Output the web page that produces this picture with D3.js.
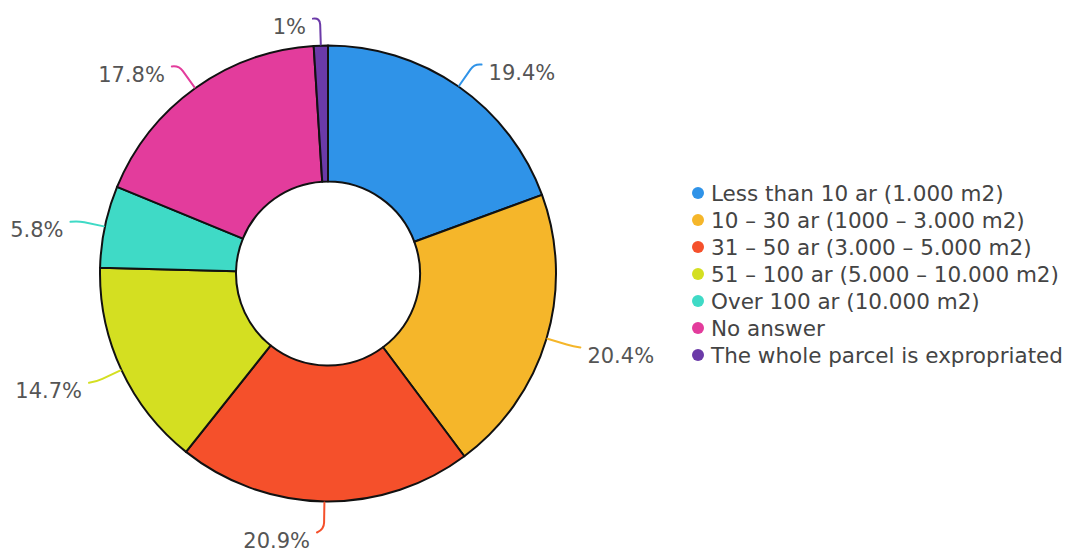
<!DOCTYPE html>
<html>
<head>
<meta charset="utf-8">
<script src="https://cdn.jsdelivr.net/npm/d3@7"></script>
<style>
  html, body { margin: 0; padding: 0; background: #fff; }
  svg { display: block; font-family: "DejaVu Sans", sans-serif; }
</style>
</head>
<body>
<svg id="chart" width="1070" height="554"></svg>
<script>
// Share of each parcel-size answer, in percent, clockwise from 12 o'clock
const categories = [
  "Less than 10 ar (1.000 m2)",
  "10 – 30 ar (1000 – 3.000 m2)",
  "31 – 50 ar (3.000 – 5.000 m2)",
  "51 – 100 ar (5.000 – 10.000 m2)",
  "Over 100 ar (10.000 m2)",
  "No answer",
  "The whole parcel is expropriated"
];
const values = [19.4, 20.4, 20.9, 14.7, 5.8, 17.8, 1];
const colors = ["#2f93e8", "#f5b62a", "#f5502b", "#d4df21", "#3fdac6", "#e33c9c", "#6b3aa8"];

const svg = d3.select("#chart");
const cx = 328, cy = 273.5;
const outerR = 228, innerR = 92;

const data = categories.map((c, i) => ({ name: c, value: values[i], color: colors[i] }));

const pie = d3.pie().value(d => d.value).sort(null);
const arcs = pie(data);
const arc = d3.arc().innerRadius(innerR).outerRadius(outerR);

const g = svg.append("g").attr("transform", `translate(${cx},${cy})`);

g.selectAll("path.slice")
  .data(arcs)
  .join("path")
  .attr("class", "slice")
  .attr("d", arc)
  .attr("fill", d => d.data.color)
  .attr("stroke", "#111")
  .attr("stroke-width", 2)
  .attr("stroke-linejoin", "round");

// Leader lines: radial stroke from the rim, curling toward the label side
const polar = (a, r) => [Math.sin(a) * r, -Math.cos(a) * r];
const labelGroup = g.append("g");

arcs.forEach(d => {
  const mid = (d.startAngle + d.endAngle) / 2;
  const side = Math.sin(mid) >= 0 ? 1 : -1;
  const p0 = polar(mid, outerR + 1);
  const p1 = polar(mid, outerR + 21);
  const p2 = polar(mid, outerR + 28);
  const p3 = [p2[0] + side * 7, p2[1] + (Math.abs(Math.cos(mid)) > 0.9 ? (Math.cos(mid) > 0 ? 1 : 3) : 1)];
  labelGroup.append("path")
    .attr("d", `M${p0[0]},${p0[1]} L${p1[0]},${p1[1]} Q${p2[0]},${p2[1]} ${p3[0]},${p3[1]}`)
    .attr("fill", "none")
    .attr("stroke", d.data.color)
    .attr("stroke-width", 2)
    .attr("stroke-linecap", "round");
  labelGroup.append("text")
    .attr("x", p3[0] + side * 7)
    .attr("y", p3[1] + 8)
    .attr("dy", "0.35em")
    .attr("text-anchor", side > 0 ? "start" : "end")
    .attr("fill", "#555")
    .attr("font-size", 21)
    .text(d3.format("~r")(d.data.value) + "%");
});

// Legend
const legend = svg.append("g").attr("transform", "translate(698,193)");
const rowH = 27;
const rows = legend.selectAll("g")
  .data(data)
  .join("g")
  .attr("transform", (d, i) => `translate(0,${i * rowH})`);
rows.append("circle").attr("r", 6).attr("fill", d => d.color);
rows.append("text")
  .attr("x", 13)
  .attr("dy", "0.35em")
  .attr("fill", "#444")
  .attr("font-size", 21.5)
  .text(d => d.name);
</script>
</body>
</html>
